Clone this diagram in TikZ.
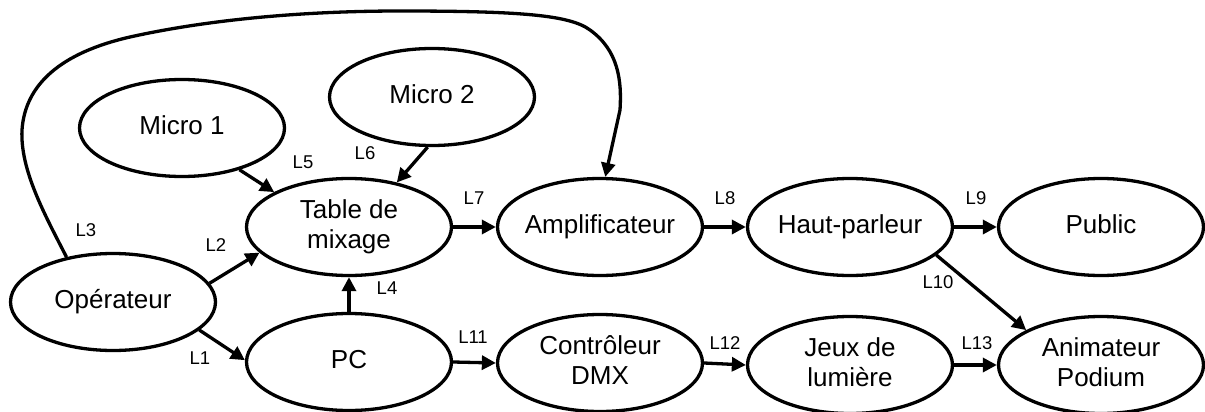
\documentclass[tikz,border=0pt]{standalone}
\usepackage{fontspec}
\setmainfont{Liberation Sans}
\usetikzlibrary{shapes.geometric,arrows.meta}
\newcommand\nodetxt[1]{\makebox[0pt]{\begin{tabular}{@{}c@{}}#1\end{tabular}}}
\begin{document}
\begin{tikzpicture}[x=1pt,y=-1pt,
  ell/.style={draw, ellipse, line width=3.3pt, minimum width=205pt, minimum height=97pt, inner sep=0pt, font=\fontsize{26}{30}\selectfont},
  lab/.style={font=\fontsize{18.5}{22}\selectfont, inner sep=0pt},
  conn/.style={line width=3.3pt, -{Triangle[length=14pt,width=14pt]}}]
\useasboundingbox (0,0) rectangle (1205,412);
% nodes
\node[ell] (op)    at (113,302) {\nodetxt{Opérateur}};
\node[ell] (m1)    at (182,128) {\nodetxt{Micro 1}};
\node[ell] (m2)    at (432,97)  {\nodetxt{Micro 2}};
\node[ell] (table) at (349,227) {\nodetxt{Table de\\mixage}};
\node[ell] (pc)    at (349,362) {\nodetxt{PC}};
\node[ell] (amp)   at (600,227) {\nodetxt{Amplificateur}};
\node[ell] (ctrl)  at (600,363) {\nodetxt{Contrôleur\\DMX}};
\node[ell] (hp)    at (850,227) {\nodetxt{Haut-parleur}};
\node[ell] (jeux)  at (850,365) {\nodetxt{Jeux de\\lumière}};
\node[ell] (pub)   at (1101,227) {\nodetxt{Public}};
\node[ell] (anim)  at (1101,365) {\nodetxt{Animateur\\Podium}};
% connectors
\draw[conn] (op.-18) -- (pc.179);
\draw[conn] (op.11) -- (table.196);
\draw[conn] (op.136) .. controls (45,215) and (20,170) .. (22,130)
  .. controls (25,85) and (60,53) .. (130,37)
  .. controls (220,17) and (320,11) .. (400,11)
  .. controls (520,11) and (570,15) .. (590,30)
  .. controls (618,50) and (622,80) .. (620,110) -- (amp.84);
\draw[conn] (pc.north) -- (table.south);
\draw[conn] (m1.-36) -- (table.155);
\draw[conn] (m2.-95) -- (table.43);
\draw[conn] (table.east) -- (amp.west);
\draw[conn] (amp.east) -- (hp.west);
\draw[conn] (hp.east) -- (pub.west);
\draw[conn] (hp.-18) -- (anim.155);
\draw[conn] (pc.east) -- (ctrl.west);
\draw[conn] (ctrl.east) -- (jeux.west);
\draw[conn] (jeux.east) -- (anim.west);
% labels
\node[lab] (l1) at (200,358) {L1};
\node[lab] (l2) at (216,245) {L2};
\node[lab] (l3) at (86,230) {L3};
\node[lab] (l4) at (387,288) {L4};
\node[lab] (l5) at (303,162) {L5};
\node[lab] (l6) at (365,153) {L6};
\node[lab] (l7) at (474,198) {L7};
\node[lab] (l8) at (725,198) {L8};
\node[lab] (l9) at (976,198) {L9};
\node[lab] (l10) at (938,282) {L10};
\node[lab] (l11) at (473,337) {L11};
\node[lab] (l12) at (725,343) {L12};
\node[lab] (l13) at (977,343) {L13};
\end{tikzpicture}
\end{document}
